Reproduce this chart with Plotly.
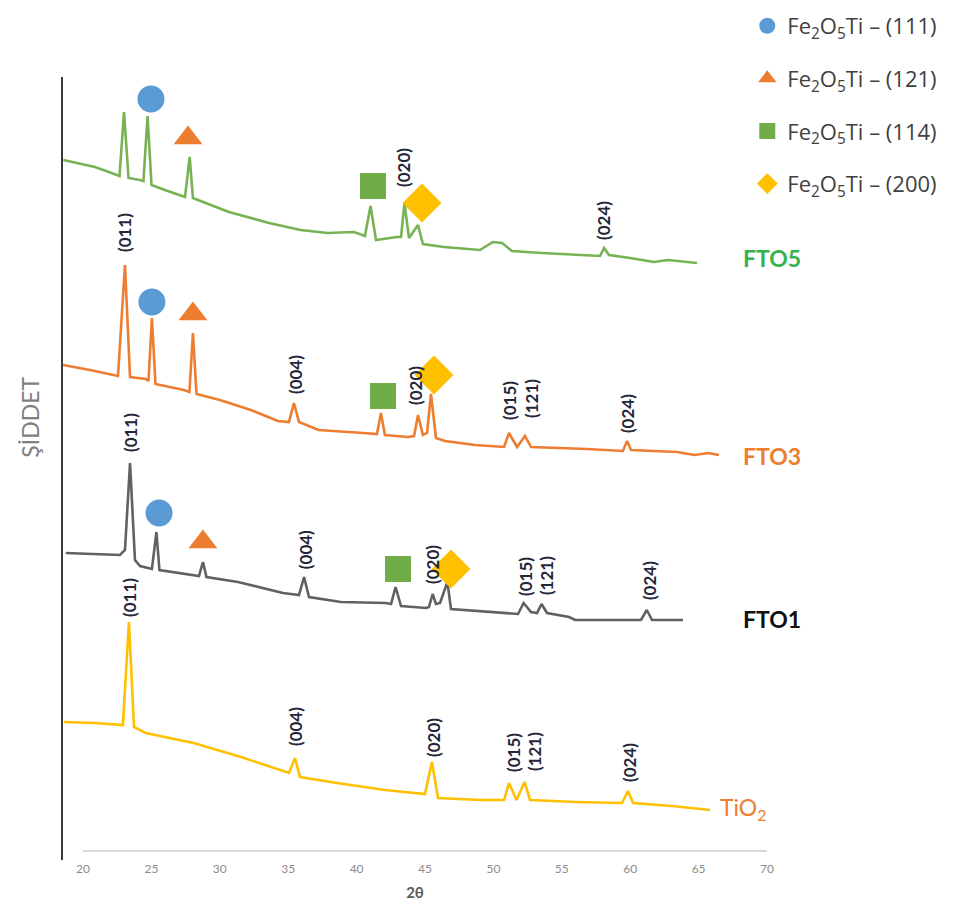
import plotly.graph_objects as go

# ---------------- data (2θ in degrees, intensity in a.u., stacked as drawn) ----------------
fto5_x = [18.57, 20.88, 22.49, 22.67, 23.00, 23.33, 24.17, 24.42, 24.72, 25.01, 25.99, 27.46,
          27.80, 28.04, 30.67, 33.60, 35.91, 37.87, 39.81, 40.61, 41.02, 41.42, 42.95, 43.25,
          43.50, 43.83, 44.49, 44.85, 46.39, 49.02, 49.61, 49.97, 50.63, 51.36, 53.55, 56.84,
          57.79, 58.09, 58.45, 59.99, 61.74, 62.77, 63.64, 64.89]
fto5_y = [700, 693, 685, 684, 748, 682, 680, 679, 744, 675, 670, 663,
          703, 662, 648, 637, 630, 627, 628, 624, 654, 620, 623, 623,
          657, 622, 635, 616, 613, 610, 615, 618, 617, 609, 607, 605,
          604, 612, 605, 602, 598, 600, 599, 597]

fto3_x = [18.54, 20.51, 22.56, 23.07, 23.44, 24.61, 24.79, 25.04, 25.30, 27.38, 27.78, 28.04,
          28.30, 30.01, 32.28, 34.25, 35.06, 35.42, 35.79, 37.22, 40.47, 41.49, 41.78, 42.07,
          43.76, 44.20, 44.49, 44.85, 45.15, 45.44, 45.80, 46.46, 48.66, 50.78, 51.14, 51.73,
          52.31, 52.75, 56.84, 59.47, 59.77, 60.06, 63.42, 64.71, 65.69, 66.49]
fto3_y = [495, 490, 484, 595, 483, 481, 479, 542, 476, 470, 468, 527,
          466, 460, 450, 439, 438, 457, 438, 430, 427, 426, 447, 425,
          423, 424, 445, 425, 427, 466, 422, 419, 415, 413, 427, 413,
          424, 413, 411, 409, 419, 410, 408, 405, 407, 405]

fto1_x = [18.74, 21.24, 22.70, 23.07, 23.44, 23.80, 24.17, 25.04, 25.37, 25.59, 28.04, 28.48,
          28.77, 29.03, 31.33, 34.62, 35.79, 36.16, 36.52, 38.86, 42.13, 42.52, 42.85, 43.25,
          45.07, 45.29, 45.56, 45.80, 46.10, 46.64, 46.90, 50.31, 51.80, 52.21, 52.75, 53.19,
          53.52, 53.92, 55.53, 55.97, 60.79, 61.21, 61.60, 63.86]
fto1_y = [307, 306, 305, 310, 397, 300, 294, 291, 328, 290, 285, 284,
          298, 283, 278, 267, 265, 283, 263, 258, 257, 256, 273, 254,
          252, 253, 266, 256, 257, 278, 251, 247, 246, 257, 248, 247,
          256, 247, 243, 240, 240, 250, 240, 240]

tio2_x = [18.61, 20.88, 22.92, 23.36, 23.73, 24.58, 28.08, 31.55, 35.06, 35.50, 35.86, 38.57,
          42.08, 45.00, 45.51, 45.95, 49.07, 50.78, 51.14, 51.69, 52.28, 52.68, 56.04, 59.40,
          59.84, 60.21, 63.06, 65.84]
tio2_y = [138, 137, 135, 238, 133, 127, 117, 103, 87, 102, 83, 77,
          70, 66, 98, 62, 60, 60, 77, 60, 78, 60, 58, 57,
          69, 57, 54, 50]

# Miller-index labels (text, 2θ, intensity)
hkl_fto5_text = ["(011)", "(020)", "(024)"]
hkl_fto5_x = [22.92, 43.39, 58.01]
hkl_fto5_y = [788, 693, 640]

hkl_fto3_text = ["(011)", "(004)", "(020)", "(015)", "(121)", "(024)"]
hkl_fto3_x = [23.00, 35.50, 44.27, 51.14, 52.75, 59.77]
hkl_fto3_y = [627, 485, 474, 460, 461, 446]

hkl_fto1_text = ["(011)", "(004)", "(020)", "(015)", "(121)", "(024)"]
hkl_fto1_x = [23.44, 36.24, 45.51, 52.31, 53.85, 61.38]
hkl_fto1_y = [427, 310, 296, 284, 284, 279]

hkl_tio2_text = ["(011)", "(004)", "(020)", "(015)", "(121)", "(024)"]
hkl_tio2_x = [23.36, 35.50, 45.58, 51.43, 52.97, 59.91]
hkl_tio2_y = [263, 133, 123, 108, 108, 98]

# Fe2O5Ti phase markers (one per sample FTO5, FTO3, FTO1)
phase_names = ["Fe<sub>2</sub>O<sub>5</sub>Ti – (111)",
               "Fe<sub>2</sub>O<sub>5</sub>Ti – (121)",
               "Fe<sub>2</sub>O<sub>5</sub>Ti – (114)",
               "Fe<sub>2</sub>O<sub>5</sub>Ti – (200)"]
p111_x = [24.97, 25.04, 25.56]
p111_y = [761, 558, 347]
p121_x = [27.68, 28.04, 28.77]
p121_y = [722, 546, 318]
p114_x = [41.20, 41.93, 43.03]
p114_y = [674, 464, 291]
p200_x = [44.78, 45.66, 46.90]
p200_y = [657, 485, 291]

# sample name labels
sample_names = ["FTO5", "FTO3", "FTO1", "TiO<sub>2</sub>"]
sample_label_x = [68.10, 68.10, 68.10, 66.42]
sample_label_y = [602, 404, 241, 52]

x_ticks = [20, 25, 30, 35, 40, 45, 50, 55, 60, 65, 70]

# ---------------- styling ----------------
curve_colors = ["#77B255", "#ED7D31", "#616161", "#FFC000"]
label_colors = ["#35B24C", "#ED7D31", "#111111", "#ED7D31"]
label_weight = ["bold", "bold", "bold", "normal"]
marker_colors = ["#5B9BD5", "#ED7D31", "#70AD47", "#FFC000"]
marker_symbols = ["circle", "triangle-up", "square", "diamond"]
marker_sizes = [27, 25, 26, 30]
HKL_COLOR = "#25263a"

fig = go.Figure()

curves = [(fto5_x, fto5_y), (fto3_x, fto3_y), (fto1_x, fto1_y), (tio2_x, tio2_y)]
for (cx, cy), col in zip(curves, curve_colors):
    fig.add_trace(go.Scatter(x=cx, y=cy, mode="lines", line=dict(color=col, width=2.6),
                             showlegend=False, hoverinfo="skip"))

phase_pts = [(p111_x, p111_y), (p121_x, p121_y), (p114_x, p114_y), (p200_x, p200_y)]
for i, ((px, py), name) in enumerate(zip(phase_pts, phase_names)):
    fig.add_trace(go.Scatter(x=px, y=py, mode="markers", name=name,
                             marker=dict(symbol=marker_symbols[i], color=marker_colors[i],
                                         size=marker_sizes[i], line=dict(width=0)),
                             cliponaxis=False, legendgroup=f"g{i}"))

annotations = []
for texts, xs, ys in [(hkl_fto5_text, hkl_fto5_x, hkl_fto5_y),
                      (hkl_fto3_text, hkl_fto3_x, hkl_fto3_y),
                      (hkl_fto1_text, hkl_fto1_x, hkl_fto1_y),
                      (hkl_tio2_text, hkl_tio2_x, hkl_tio2_y)]:
    for t, x, y in zip(texts, xs, ys):
        annotations.append(dict(x=x, y=y, xref="x", yref="y", text=t,
                                textangle=-90, showarrow=False, xanchor="center", yanchor="middle",
                                font=dict(family="Lato", size=17, weight="bold", color=HKL_COLOR)))

for name, x, y, col, wt in zip(sample_names, sample_label_x, sample_label_y, label_colors, label_weight):
    annotations.append(dict(x=x, y=y, xref="x", yref="y", text=name,
                            showarrow=False, xanchor="left", yanchor="middle",
                            font=dict(family="Lato", size=23, weight=wt, color=col)))

# y-axis title
annotations.append(dict(x=-0.047, y=0.566, xref="paper", yref="paper", text="ŞİDDET",
                        textangle=-90, showarrow=False, xanchor="center", yanchor="middle",
                        font=dict(family="Lato", size=23, color="#7F7F7F")))

fig.update_layout(
    width=950, height=902,
    margin=dict(l=55, r=191, t=69, b=50, autoexpand=False),
    paper_bgcolor="white", plot_bgcolor="white",
    annotations=annotations,
    shapes=[dict(type="line", xref="x", yref="paper", x0=20, x1=70, y0=0.0115, y1=0.0115,
                 line=dict(color="#D9D9D9", width=2))],
    legend=dict(x=0.972, y=1.092, xanchor="left", yanchor="top",
                font=dict(family="Open Sans", size=22, color="#404040"),
                traceorder="grouped", tracegroupgap=21, bgcolor="rgba(0,0,0,0)"),
    xaxis=dict(range=[18.54, 70], tickvals=x_ticks, ticktext=[str(t) for t in x_ticks],
               showgrid=False, zeroline=False, showline=False, ticks="",
               tickfont=dict(family="Lato", size=12, color="#8C8C8C"),
               title=dict(text="2θ", standoff=12,
                          font=dict(family="Lato", size=15, weight="bold", color="#595959"))),
    yaxis=dict(range=[0, 783], showgrid=False, zeroline=False, showticklabels=False, ticks="",
               showline=True, linecolor="#3A3A3A", linewidth=2),
)

fig.write_html("out.html")
